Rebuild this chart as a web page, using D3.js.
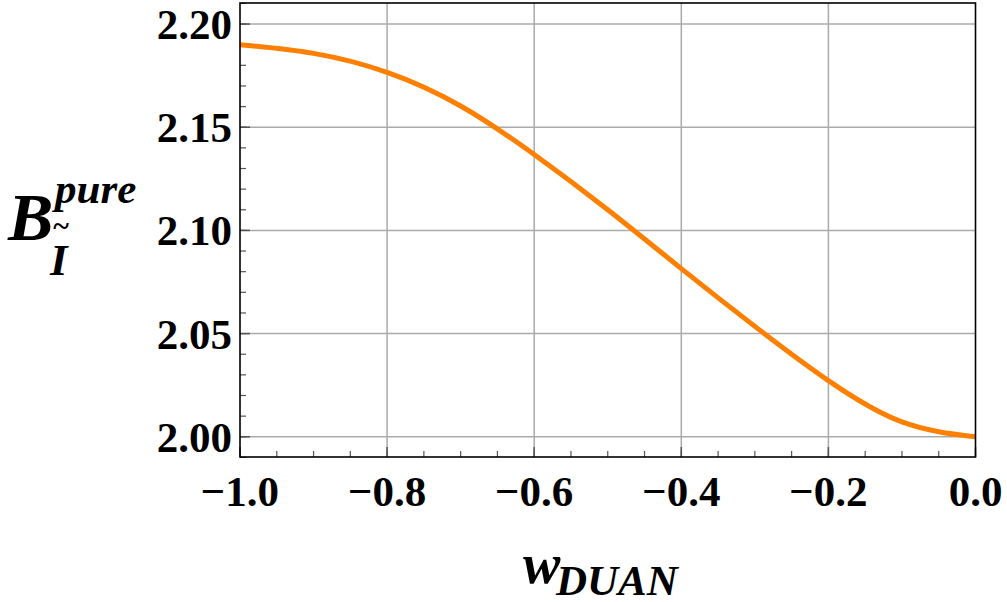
<!DOCTYPE html>
<html>
	<head>
		<meta charset="utf-8">
		<script src="https://cdnjs.cloudflare.com/ajax/libs/d3/7.8.5/d3.min.js" charset="utf-8"></script>
		<style>
			body { margin: 0; background: #fff; }
			svg text { font-family: 'Liberation Serif', 'Times New Roman', serif; font-weight: bold; }
		</style>
	</head>
	<body>
		<div id="chart"></div>
		<script>
			//////////////////////////////// Data ////////////////////////////////
			var wValues = [-1.0, -0.9, -0.8, -0.7, -0.6, -0.5, -0.4, -0.3, -0.2, -0.1, 0.0];
			var bValues = [2.190, 2.1858, 2.1766, 2.1603, 2.1368, 2.1100, 2.0815, 2.0535, 2.0272, 2.0072, 2.000];
			var xTicks = [-1.0, -0.8, -0.6, -0.4, -0.2, 0.0];
			var yTicks = [2.00, 2.05, 2.10, 2.15, 2.20];

			var W = 1007, H = 602;
			var box = { left: 240, top: 3, right: 975.5, bottom: 457 };
			var width = box.right - box.left, height = box.bottom - box.top;

			var svg = d3.select("#chart").append("svg")
				.attr("width", W).attr("height", H);

			var g = svg.append("g").attr("transform", "translate(" + box.left + "," + box.top + ")");

			var x = d3.scaleLinear().domain([-1, 0]).range([0, width]);
			var y = d3.scaleLinear().domain([1.9902, 2.2102]).range([height, 0]);

			//grid
			g.append("g").selectAll("line").data(xTicks.slice(1, -1)).enter().append("line")
				.attr("x1", d => x(d)).attr("x2", d => x(d))
				.attr("y1", 0).attr("y2", height)
				.style("stroke", "#aaa").style("stroke-width", 1.5);
			g.append("g").selectAll("line").data(yTicks).enter().append("line")
				.attr("x1", 0).attr("x2", width)
				.attr("y1", d => y(d)).attr("y2", d => y(d))
				.style("stroke", "#aaa").style("stroke-width", 1.5);

			//minor ticks
			var xMinor = d3.range(0, 21).map(i => -1 + i * 0.05);
			var yMinor = d3.range(0, 23).map(i => 1.99 + i * 0.01).filter(v => v <= 2.2102);
			g.append("g").selectAll("line").data(xMinor).enter().append("line")
				.attr("x1", d => x(d)).attr("x2", d => x(d))
				.attr("y1", height).attr("y2", height - 6)
				.style("stroke", "#555").style("stroke-width", 1.2);
			g.append("g").selectAll("line").data(yMinor).enter().append("line")
				.attr("x1", 0).attr("x2", 6)
				.attr("y1", d => y(d)).attr("y2", d => y(d))
				.style("stroke", "#555").style("stroke-width", 1.2);
			g.append("g").selectAll("line").data(yTicks).enter().append("line")
				.attr("x1", 0).attr("x2", 10)
				.attr("y1", d => y(d)).attr("y2", d => y(d))
				.style("stroke", "#555").style("stroke-width", 1.5);
			g.append("g").selectAll("line").data(xTicks).enter().append("line")
				.attr("x1", d => x(d)).attr("x2", d => x(d))
				.attr("y1", height).attr("y2", height - 10)
				.style("stroke", "#555").style("stroke-width", 1.5);

			//curve
			var line = d3.line()
				.x((d, i) => x(wValues[i]))
				.y(d => y(d))
				.curve(d3.curveNatural);
			g.append("path")
				.attr("d", line(bValues))
				.style("fill", "none")
				.style("stroke", "#ff8000")
				.style("stroke-width", 5);

			//frame
			g.append("rect")
				.attr("x", 0).attr("y", 0).attr("width", width).attr("height", height)
				.style("fill", "none").style("stroke", "#000").style("stroke-width", 1.6);

			//tick labels
			var fmtY = d3.format(".2f"), fmtX = d3.format(".1f");
			svg.append("g").selectAll("text").data(yTicks).enter().append("text")
				.attr("x", box.left - 8)
				.attr("y", d => box.top + y(d) + 15)
				.attr("text-anchor", "end")
				.style("font-size", "43px")
				.text(d => fmtY(d));
			svg.append("g").selectAll("text").data(xTicks).enter().append("text")
				.attr("x", d => box.left + x(d))
				.attr("y", 506)
				.attr("text-anchor", "middle")
				.style("font-size", "43px")
				.text(d => fmtX(d));

			//axis titles
			var yl = svg.append("g");
			yl.append("text").attr("x", 8).attr("y", 240)
				.style("font-size", "68px").style("font-style", "italic").text("B");
			yl.append("text").attr("x", 55).attr("y", 203)
				.style("font-size", "43px").style("font-style", "italic").text("pure");
			yl.append("text").attr("x", 61).attr("y", 236).attr("text-anchor", "middle")
				.style("font-size", "30px").text("~");
			yl.append("text").attr("x", 50).attr("y", 275)
				.style("font-size", "45px").style("font-style", "italic").text("I");

			var xl = svg.append("g");
			xl.append("text").attr("x", 523).attr("y", 583)
				.style("font-size", "56px").style("font-style", "italic").text("w");
			xl.append("text").attr("x", 556).attr("y", 595)
				.style("font-size", "43px").style("font-style", "italic").text("DUAN");
		</script>
	</body>
</html>
